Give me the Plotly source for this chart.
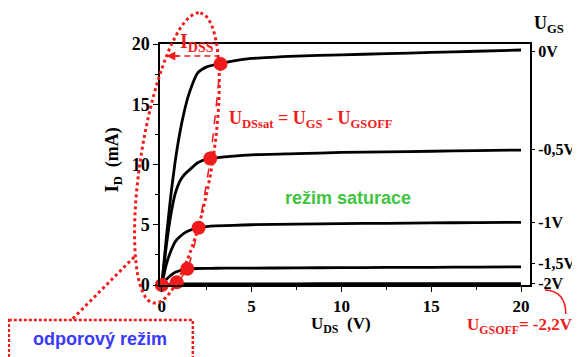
import math
import plotly.graph_objects as go

# ---------------- data ----------------
uds = [0, 0.25, 0.5, 0.75, 1.0, 1.25, 1.5, 2.0, 2.5, 3.0, 4.0, 5.0, 7.5, 10, 12.5, 15, 17.5, 20]
id_ugs_0 = [0, 3.9, 7.4, 10.3, 12.6, 14.4, 15.8, 17.6, 18.1, 18.3, 18.6, 18.8, 19.0, 19.1, 19.2, 19.3, 19.4, 19.5]
id_ugs_05 = [0, 3.2, 5.8, 7.6, 8.6, 9.15, 9.5, 10.15, 10.45, 10.55, 10.7, 10.8, 10.9, 11.0, 11.05, 11.1, 11.15, 11.2]
id_ugs_1 = [0, 1.7, 2.8, 3.6, 4.0, 4.3, 4.5, 4.75, 4.85, 4.9, 4.95, 5.0, 5.05, 5.1, 5.12, 5.15, 5.18, 5.2]
id_ugs_15 = [0, 0.45, 0.8, 1.05, 1.2, 1.28, 1.33, 1.37, 1.38, 1.39, 1.4, 1.4, 1.42, 1.44, 1.46, 1.47, 1.49, 1.5]
id_ugs_2 = [0, 0.05, 0.08, 0.1, 0.1, 0.1, 0.1, 0.1, 0.1, 0.1, 0.1, 0.1, 0.1, 0.11, 0.11, 0.12, 0.12, 0.12]
curves = [id_ugs_0, id_ugs_05, id_ugs_1, id_ugs_15, id_ugs_2]

sat_uds = [0, 0.83, 1.42, 2.05, 2.7, 3.27]
sat_id = [0, 0.22, 1.35, 4.75, 10.5, 18.35]

ugs_labels = ["0V", "-0,5V", "-1V", "-1,5V", "-2V"]
ugs_label_levels = [19.4, 11.25, 5.2, 1.8, 0.1]
x_ticks = [0, 5, 10, 15, 20]
y_ticks = [0, 5, 10, 15, 20]
idss_level = 19.0

# ---------------- geometry helpers (page pixels) ----------------
W, H = 580, 357
OFF = 8  # page body margin
PL, PR, PT, PB = 160, 532, 44, 285
PW, PH = PR - PL, PB - PT
ML, MT = PL - OFF, PT - OFF
MR, MB = W - (PR - OFF), H - (PB - OFF)


def px(x):
    return (x - PL) / PW


def py(y):
    return (PB - y) / PH


RED = "#f01c1c"
SERIF = "Liberation Serif"
SANS = "Liberation Sans"

fig = go.Figure()

for ys in curves:
    fig.add_trace(go.Scatter(x=uds, y=ys, mode="lines", line=dict(color="black", width=2.8, shape="spline", smoothing=0.6),
                             showlegend=False, hoverinfo="skip"))

fig.add_trace(go.Scatter(x=sat_uds, y=sat_id, mode="lines+markers", cliponaxis=False,
                         line=dict(color=RED, width=1.5, dash="dash", shape="spline", smoothing=0.6),
                         marker=dict(color=RED, size=14), showlegend=False, hoverinfo="skip"))

# invisible trace for the right axis
fig.add_trace(go.Scatter(x=[None], y=[None], yaxis="y2", showlegend=False))

# ---------------- decorations ----------------
shapes = []
cx, cy, a, b, th = 177, 158, 147, 36, math.radians(9.2)
pts = []
for i in range(73):
    t = 2 * math.pi * i / 72
    X = cx + a * math.cos(t) * math.sin(th) + b * math.sin(t) * math.cos(th)
    Y = cy - a * math.cos(t) * math.cos(th) + b * math.sin(t) * math.sin(th)
    pts.append((px(X), py(Y)))
path = "M " + " L ".join(f"{x:.4f},{y:.4f}" for x, y in pts) + " Z"
shapes.append(dict(type="path", path=path, xref="paper", yref="paper", line=dict(color=RED, width=3, dash="dot")))
shapes.append(dict(type="line", xref="paper", yref="paper", x0=px(134), y0=py(257), x1=px(72), y1=py(319),
                   line=dict(color=RED, width=3, dash="dot")))
shapes.append(dict(type="rect", xref="paper", yref="paper", x0=px(8), y0=py(320), x1=px(193), y1=py(362),
                   line=dict(color=RED, width=2.5, dash="3px,2px")))
shapes.append(dict(type="line", xref="x", yref="y", x0=0.7, y0=idss_level, x1=3.1, y1=idss_level,
                   line=dict(color=RED, width=1.5, dash="6px,4px")))
shapes.append(dict(type="path", xref="paper", yref="paper",
                   path=f"M {px(568):.4f},{py(314):.4f} Q {px(568):.4f},{py(291):.4f} {px(547):.4f},{py(290):.4f}",
                   line=dict(color=RED, width=1.5)))


def label(xp, yp, text, font, xanchor="center", angle=0):
    return dict(x=px(xp), y=py(yp), xref="paper", yref="paper", text=text, showarrow=False,
                xanchor=xanchor, yanchor="middle", textangle=angle, font=font)


ann = []
ann.append(dict(x=0.25, y=idss_level, xref="x", yref="y", ax=14, ay=0, text="", showarrow=True,
                arrowhead=2, arrowsize=1.2, arrowwidth=1.5, arrowcolor=RED))
ann.append(label(197, 42, "I<sub>DSS</sub>", dict(family=SERIF, size=20, color=RED, weight="bold")))
ann.append(label(227, 119, "U<sub>DSsat</sub> = U<sub>GS</sub> - U<sub>GSOFF</sub>",
                 dict(family=SERIF, size=18, color=RED, weight="bold"), xanchor="left"))
ann.append(label(349, 198, "režim saturace", dict(family=SANS, size=18, color="#3ec43e", weight="bold")))
ann.append(label(100, 339, "odporový režim", dict(family=SANS, size=18, color="#3a3aff", weight="bold")))
ann.append(label(577, 326, "U<sub>GSOFF</sub>= -2,2V", dict(family=SERIF, size=17, color=RED, weight="bold"),
                 xanchor="right"))
ann.append(label(342, 325, "U<sub>DS</sub>  (V)", dict(family=SERIF, size=17, color="black", weight="bold")))
ann.append(label(113, 160, "I<sub>D</sub>  (mA)", dict(family=SERIF, size=18, color="black", weight="bold"), angle=-90))
ann.append(label(551, 24, "U<sub>GS</sub>", dict(family=SERIF, size=18, color="black", weight="bold")))

tickfont = dict(family=SERIF, size=18, color="black", weight="bold")
fig.update_layout(
    width=W, height=H, margin=dict(l=ML, r=MR, t=MT, b=MB, pad=0),
    paper_bgcolor="white", plot_bgcolor="white",
    xaxis=dict(range=[-0.1, 20.5], tickvals=x_ticks, showgrid=False, zeroline=False, showline=True,
               linecolor="black", linewidth=1.5, mirror=True, ticks="outside", ticklen=5, tickwidth=1.3,
               tickcolor="black", tickfont=dict(family=SERIF, size=17, color="black", weight="bold"),
               minor=dict(tickvals=[2.5, 7.5, 12.5, 17.5], ticks="outside", ticklen=3, tickcolor="black")),
    yaxis=dict(range=[0, 20], tickvals=y_ticks, showgrid=False, zeroline=False, showline=True,
               linecolor="black", linewidth=1.5, mirror=True, ticks="outside", ticklen=5, tickwidth=1.3,
               tickcolor="black", tickfont=tickfont,
               minor=dict(tickvals=[2.5, 7.5, 12.5, 17.5], ticks="outside", ticklen=3, tickcolor="black")),
    yaxis2=dict(range=[0, 20], overlaying="y", side="right", tickvals=ugs_label_levels, ticktext=ugs_labels,
                showgrid=False, zeroline=False, showline=False, ticks="outside", ticklen=4, tickwidth=1.3,
                tickcolor="black", tickfont=dict(family=SERIF, size=16, color="black", weight="bold")),
    shapes=shapes, annotations=ann,
)

fig.write_html("out.html")
